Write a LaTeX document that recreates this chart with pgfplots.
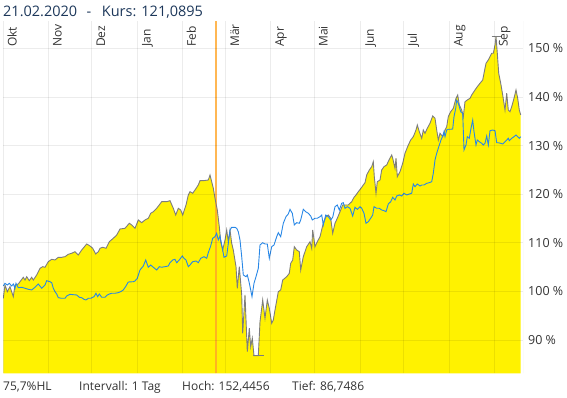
\documentclass[border=0pt]{standalone}
\usepackage{pgfplots}
\pgfplotsset{compat=1.18}
\usepackage{pgfplotstable}
\usepackage{fontspec}
\setmainfont{Open Sans}
\definecolor{titlec}{RGB}{28,55,90}
\definecolor{txt}{RGB}{51,51,51}
\definecolor{yel}{RGB}{255,242,0}
\definecolor{grayl}{RGB}{125,125,125}
\definecolor{bluel}{RGB}{40,135,230}
\definecolor{orangel}{RGB}{255,165,40}

\pgfplotstableread{
x y
0.3 98.58
2 101.32
4.3 99.94
7 100.97
10.3 98.91
12 101.32
15.3 101.52
20.3 102.90
22 102.34
23.7 103.02
26.3 102.20
28.7 102.90
30.3 102.34
33.7 103.37
37 104.75
39.7 105.08
42 104.96
45.3 106.11
48.7 106.60
52 106.46
55.3 107.01
58.7 107.01
62 107.14
65.3 107.63
68.7 107.84
72 108.17
75.3 107.49
78.7 108.51
83.7 109.75
87 109.34
89.7 108.87
92.7 107.69
95.3 108.17
97 108.87
99.7 109.07
103 108.87
106.3 110.22
110.3 110.92
113.7 111.60
117 112.83
122 112.98
126.3 114.01
128.7 113.66
132 112.98
135.3 114.69
138.7 114.13
142 114.69
145.3 115.04
147.7 116.06
150.3 116.39
153.7 117.09
158.7 118.45
163.7 118.45
167 118.66
170.3 117.09
172.7 115.71
175.3 117.09
177.7 116.74
179.7 115.71
183 117.77
185.3 119.83
187 120.51
189.7 120.18
192 120.86
195.3 121.89
197 122.77
200.3 122.77
205.3 122.91
207 123.94
208.7 122.56
210.3 121.21
212 119.15
214.3 116.74
216.3 113.31
217.7 110.22
219.7 108.51
222 110.57
223.7 112.63
225.3 110.22
227 112.63
228.7 109.89
230.3 108.51
233 105.08
234.3 100.64
236.3 105.08
238.7 99.26
239.7 91.38
242 99.26
244.3 87.60
246.3 92.41
247.7 88.62
249.3 90.35
251 86.75
255.3 86.75
257 93.77
259.7 98.23
262 94.47
264.3 98.23
266.3 96.52
268.7 93.44
270.3 94.12
272 96.17
275.3 99.94
277.7 100.29
279.7 102.34
283.7 103.02
286.3 103.72
287.7 105.78
289.7 106.46
291.3 109.19
293.7 108.51
296.3 108.17
297.7 104.40
300.3 107.14
303.7 109.19
307 110.22
308.7 108.86
309.7 112.63
312 109.19
314.3 110.22
317 111.25
320.3 114.01
323 115.37
325.3 115.71
327.7 115.04
329.7 111.95
332 114.01
334.3 115.04
337 116.39
339.7 117.77
342 117.77
345.3 117.77
348.7 118.45
351 119.35
353 119.83
355.3 120.51
358 121.21
360.3 121.89
362 122.36
363.7 123.94
366.3 124.97
368.7 125.65
370.3 126.68
371.3 123.59
373 120.18
374.3 122.56
377 122.91
378.7 124.97
381 125.65
383.7 126.00
386 127.03
388.7 128.06
389.7 127.38
392 125.32
393 127.38
394.3 123.59
397 124.62
399.7 126.35
402 128.41
405.3 130.11
407.7 131.14
410.3 131.82
413 133.20
414.3 134.23
416.3 132.85
418.7 131.49
420.3 133.20
422 132.52
424.3 133.55
427 134.58
429.7 136.08
432 135.61
433.7 133.20
435.3 131.14
437 132.52
439.7 131.82
442 133.20
443.7 133.88
445.3 135.94
447.7 136.96
450.3 137.66
453 139.72
454.7 140.40
456.3 138.34
458.7 137.31
460.3 135.94
462 139.02
464.3 139.37
467 139.72
468.7 140.40
472 141.43
474.3 142.11
477 142.81
479.7 143.48
481.3 145.19
483 146.92
485.3 147.60
487 148.28
488.7 148.98
490.3 148.98
492 150.68
493 152.45
494.3 148.98
495.7 144.86
497.7 142.81
499.7 140.40
502 137.31
503.7 140.75
505.3 137.31
507 136.96
508.7 137.99
511 139.72
513 141.43
514.7 139.72
516.3 137.31
517.7 136.29
}\grayseries

\pgfplotstableread{
x y
0.3 101.11
2 101.66
4.3 101.31
6.3 101.66
8.7 101.11
10.3 101.52
12 100.64
13 101.66
15.3 100.76
18.7 100.84
22 100.64
25.3 100.43
28.7 100.29
32 100.84
35.3 101.52
38.7 100.64
42 101.31
43.7 102.20
47 101.99
48.7 101.79
50.3 100.64
52 99.94
53.7 99.46
55.3 98.70
58.7 98.58
62 98.58
63.7 99.05
67 99.40
70.3 99.32
73.7 99.26
76.3 98.79
78.7 98.70
81 98.37
83 98.23
85.3 98.58
87.7 98.58
91 98.91
93 99.61
94.7 98.91
96.3 99.46
98.7 98.79
102 98.79
104.3 99.26
106.3 99.46
108.7 99.61
112 99.61
115.3 99.74
117.7 99.94
120.3 100.29
123 101.11
125.3 101.93
130.3 101.99
132 102.14
134.3 102.69
137 104.40
140.3 105.22
142.7 106.46
145.3 104.96
147.7 105.43
150.3 104.96
153.7 104.40
156.3 105.08
158.7 104.96
162 105.08
165.3 105.22
167 105.90
169.7 106.46
172 106.60
173.7 105.90
176.3 106.46
179.3 107.28
181 106.81
183 106.46
185.3 105.08
187 105.43
189.7 106.11
193 106.25
195.3 105.90
197.7 106.81
201 107.14
203.7 106.81
205.3 107.96
207.7 109.34
209.7 110.92
212 111.25
213.7 111.95
215.3 110.57
217 111.39
219.7 108.51
221 107.01
223.7 107.28
225.3 109.89
227 112.63
228.7 113.18
232 113.18
233.7 112.98
235.3 112.28
237 110.57
238.7 107.14
240.3 103.37
243 103.02
244.3 103.37
246 101.99
247.7 100.29
249 98.91
251 101.66
253 103.02
255.3 104.75
257 109.54
259.7 110.01
262 109.75
264.3 109.75
266.3 106.81
268.7 109.19
271 109.54
273.7 111.25
275.3 112.07
277.7 111.25
280.3 114.01
283 115.37
285.3 115.92
287 116.88
289.3 116.06
291.3 113.66
293.7 114.13
296.3 114.01
297.7 114.69
300.3 116.88
302.7 116.39
305.3 116.06
307.7 115.51
309.3 114.69
312 115.04
314.3 115.04
317 115.37
318.7 115.71
320.3 113.66
322.7 115.71
325.3 115.37
327.7 114.69
329.7 115.24
332 117.42
334.3 117.77
336.3 116.74
338.7 118.12
340.3 118.25
342 117.09
344.3 117.42
347 117.09
349.7 115.51
352 117.30
354.3 116.88
357 117.42
358.7 117.09
361 116.06
363 114.01
365.3 114.33
367.7 115.04
369.7 115.71
371 117.42
373.7 117.09
376.3 117.09
378.7 116.74
381 116.60
383 116.39
385.3 117.97
387.7 118.45
389.7 119.35
392 118.80
393.7 119.62
396.3 119.83
398.7 119.62
401 120.18
403.7 119.83
406.3 120.03
408.7 120.18
410.3 122.09
412 121.53
414.3 122.09
417 121.68
418.7 121.88
421 121.88
423.7 122.23
426.3 122.36
428.7 122.56
430.3 124.29
432 127.03
433.7 128.40
436.3 130.11
438 131.14
439.7 131.96
441 132.85
442 131.82
443.7 133.20
445.3 133.34
447.7 133.34
449.7 133.40
451 135.93
452.7 137.66
453.7 139.37
455.3 138.69
456.3 137.99
457.7 136.96
459.7 136.63
461 129.08
463 130.11
464.3 131.82
466.3 131.49
467.7 133.20
469.7 135.25
471 132.85
473 130.11
474.3 131.14
476.3 130.79
478.7 130.46
480.3 130.11
482 130.46
483.7 131.96
485.3 130.11
487 133.05
489.7 133.20
492 133.05
493.7 130.58
495.3 130.58
497.7 130.46
499.7 130.32
502 130.79
503.7 131.14
505.3 131.49
506.3 131.00
508.7 131.49
511 131.82
513 132.17
514.7 131.82
516.3 131.49
517.7 131.82
}\blueseries

\begin{document}
\begin{tikzpicture}[x=1pt,y=1pt]
\path[use as bounding box] (0,0) rectangle (567,398);
% title
\node[anchor=base west, inner sep=0, font=\fontsize{14.5}{16}\selectfont, text=titlec] at (3,381.3) {21.02.2020};
\node[anchor=base west, inner sep=0, font=\fontsize{14.5}{16}\selectfont, text=titlec] at (86.5,381.3) {-};
\node[anchor=base west, inner sep=0, font=\fontsize{14.5}{16}\selectfont, text=titlec] at (101.7,381.3) {Kurs: 121,0895};
% footer
\node[anchor=base west, inner sep=0, font=\fontsize{12}{14}\selectfont, text=txt] at (3,7) {75,7\%HL};
\node[anchor=base west, inner sep=0, font=\fontsize{12}{14}\selectfont, text=txt] at (79,7) {Intervall: 1 Tag};
\node[anchor=base west, inner sep=0, font=\fontsize{12}{14}\selectfont, text=txt] at (182,7) {Hoch: 152,4456};
\node[anchor=base west, inner sep=0, font=\fontsize{12}{14}\selectfont, text=txt] at (292,7) {Tief: 86,7486};
\begin{axis}[
  at={(3pt,24.7pt)}, anchor=south west,
  scale only axis, width=520pt, height=352.6pt,
  xmin=0, xmax=520, ymin=83.15, ymax=155.68,
  axis on top,
  xtick={0.3,45.3,88.7,134.3,179.5,222.7,267.5,311.3,357.5,400.5,446.3,491.3},
  xticklabel=\empty,
  ytick={90,100,110,120,130,140,150},
  yticklabels={90 \%,100 \%,110 \%,120 \%,130 \%,140 \%,150 \%},
  yticklabel pos=right,
  yticklabel style={anchor=west, inner sep=0pt, xshift=5pt, font=\fontsize{12.5}{14}\selectfont, text=txt},
  major tick length=0pt,
  grid=major,
  major grid style={black, opacity=0.075, line width=0.75pt},
  axis line style={draw=none},
]
\addplot[draw=none, fill=yel] table[x=x,y=y] {\grayseries} \closedcycle;
\addplot[orangel, line width=2.2pt, opacity=0.8] coordinates {(212.8,83.15) (212.8,155.68)};
\addplot[grayl, line width=0.9pt] table[x=x,y=y] {\grayseries};
\addplot[bluel, line width=0.9pt] table[x=x,y=y] {\blueseries};
\addplot[grayl, line width=0.9pt] coordinates {(488.7,152.45) (498.7,152.45)};
\addplot[grayl, line width=0.9pt] coordinates {(250.3,86.75) (261,86.75)};
\draw[black!12, line width=0.75pt] (rel axis cs:1,0) -- (rel axis cs:1,1);
\foreach \xx/\lab in {13.7/Okt,58.7/Nov,102.1/Dez,147.7/Jan,192.9/Feb,236.1/Mär,280.9/Apr,324.7/Mai,370.9/Jun,413.9/Jul,459.7/Aug,504.7/Sep}{
  \edef\temp{\noexpand\node[rotate=90, anchor=base west, inner sep=0, font=\noexpand\fontsize{12}{14}\noexpand\selectfont, text=txt] at (axis cs:\xx,150.27) {\lab};}
  \temp
}
\end{axis}
\end{tikzpicture}
\end{document}
